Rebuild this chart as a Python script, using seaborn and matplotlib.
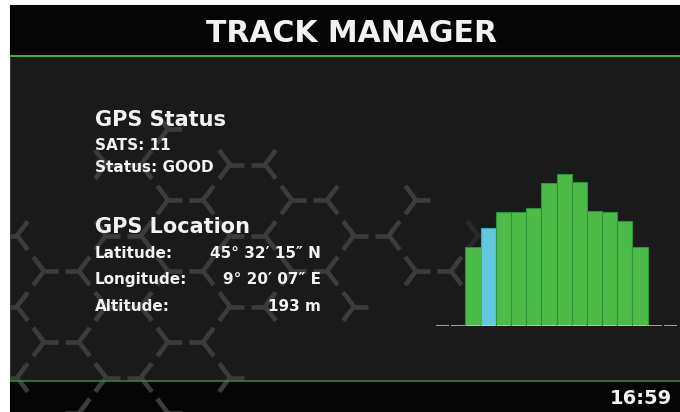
import numpy as np
import matplotlib
matplotlib.use("Agg")
import matplotlib.pyplot as plt
from matplotlib.patches import Rectangle
from matplotlib.collections import LineCollection
import seaborn as sns

# -----------------------------
# data
# -----------------------------
channels = ["1", "2", "3", "4", "5", "6", "7", "8",
            "9", "10", "11", "12", "13", "14", "15", "16"]
snr_db = [0, 0, 23.4, 28.9, 33.8, 33.8, 34.8, 42.4,
          45.0, 42.5, 34.0, 33.8, 31.2, 23.4, 0, 0]
channel_state = ["idle", "idle", "locked", "acquiring", "locked", "locked",
                 "locked", "locked", "locked", "locked", "locked", "locked",
                 "locked", "locked", "idle", "idle"]

title_text = "TRACK MANAGER"
clock_text = "16:59"
status_header = "GPS Status"
status_lines = ["SATS: 11", "Status: GOOD"]
location_header = "GPS Location"
location_labels = ["Latitude:", "Longitude:", "Altitude:"]
location_values = ["45\u00b0 32\u2032 15\u2033 N", "9\u00b0 20\u2032 07\u2033 E", "193 m"]

# -----------------------------
# style
# -----------------------------
sns.set_style("white")
plt.rcParams["font.family"] = ["DejaVu Sans"]

state_colors = {"locked": "#4cbb47", "acquiring": "#62c8dd", "idle": "#4cbb47"}
state_edges = {"locked": "#2b9438", "acquiring": "#3ea6b8", "idle": "none"}
body_bg = "#1a1a1a"
bar_bg = "#050505"
green = "#3cb043"
white = "#f2f2f2"
pt = 0.72  # pixel -> point at dpi 100

W, H = 680, 412
fig = plt.figure(figsize=(W / 100, H / 100), dpi=100, facecolor="white")

# background / screen frame in pixel coordinates (origin top-left)
bg = fig.add_axes([0, 0, 1, 1])
bg.set_xlim(0, W)
bg.set_ylim(H, 0)
bg.axis("off")

bg.add_patch(Rectangle((10, 5), W - 10, H - 5, facecolor=body_bg, edgecolor="#3a3a3a", lw=0.8, zorder=0))
bg.add_patch(Rectangle((10, 5), W - 10, 50, facecolor=bar_bg, edgecolor="none", zorder=1))
bg.add_patch(Rectangle((10, 381), W - 10, H - 381, facecolor=bar_bg, edgecolor="none", zorder=1))

# decorative hex "Y" pattern: lattice row -> visible x span
hex_rows = {-2: (160, 175), -1: (100, 270), 0: (160, 420), 1: (10, 480),
            2: (40, 455), 3: (10, 360), 4: (40, 210), 5: (10, 235), 6: (75, 170)}
hx_a, hx_b, hx_c, arm = 35.0, 27.0, 35.5, 0.4
segs, cols = [], []
for k, (x0, x1) in hex_rows.items():
    y = 200 + k * hx_c
    off = 0 if k % 2 == 0 else 62
    for n in range(-3, 6):
        xr = 168 + off + 124 * n
        for (vx, sgn) in ((xr, 1), (xr + hx_a, -1)):
            if vx < x0 or vx > x1:
                continue
            alpha = 0.45 if vx > 460 else 1.0
            arms = [(sgn * hx_a, 0), (-sgn * hx_b, -hx_c), (-sgn * hx_b, hx_c)]
            for ddx, ddy in arms:
                segs.append([(vx, y), (vx + arm * ddx, y + arm * ddy)])
                cols.append((0.235, 0.235, 0.235, alpha))
hexes = LineCollection(segs, colors=cols, linewidths=4.6 * pt, capstyle="butt", zorder=2)
bg.add_collection(hexes)
clip = Rectangle((10, 57), W - 10, H - 57, transform=bg.transData)
hexes.set_clip_path(clip)

bg.hlines(56, 10, W, color=green, lw=2 * pt, zorder=3)
bg.hlines(380.5, 10, W, color="#2e8f3a", lw=1.5 * pt, zorder=3)

# texts
bg.text(351, 42, title_text, color=white, fontsize=21.5, fontweight="bold", ha="center", va="baseline", zorder=5)
bg.text(672, 404, clock_text, color=white, fontsize=14, fontweight="bold", ha="right", va="baseline", zorder=5)

bg.text(95, 126, status_header, color=white, fontsize=15, fontweight="bold", va="baseline", zorder=5)
for txt, yb in zip(status_lines, [150, 172]):
    bg.text(95, yb, txt, color=white, fontsize=11, fontweight="bold", va="baseline", zorder=5)

bg.text(95, 233, location_header, color=white, fontsize=15, fontweight="bold", va="baseline", zorder=5)
for lab, val, yb in zip(location_labels, location_values, [258, 284, 311]):
    bg.text(95, yb, lab, color=white, fontsize=11, fontweight="bold", va="baseline", zorder=5)
    bg.text(321, yb, val, color=white, fontsize=11, fontweight="bold", ha="right", va="baseline", zorder=5)

# -----------------------------
# signal bars
# -----------------------------
px_per_db = 3.37
ymax = 50
ax = fig.add_axes([435 / W, (H - 325.7) / H, 243 / W, ymax * px_per_db / H])
ax.patch.set_alpha(0)

palette = {c: state_colors[s] for c, s in zip(channels, channel_state)}
sns.barplot(x=channels, y=snr_db, hue=channels, palette=palette, order=channels,
            width=1.0, legend=False, ax=ax, saturation=1, linewidth=0.8)
for p, s in zip(ax.patches, channel_state):
    p.set_edgecolor(state_edges[s])

# baseline ticks per channel
xs = np.arange(len(channels))
ax.hlines([0] * len(xs), xs - 0.45, xs + 0.45, color="#d0d0d0", alpha=0.75, lw=2 * pt, zorder=5)

ax.set_xlim(-0.5, len(channels) - 0.5)
ax.set_ylim(0, ymax)
ax.axis("off")

fig.savefig("out.png", dpi=100, facecolor="white")
